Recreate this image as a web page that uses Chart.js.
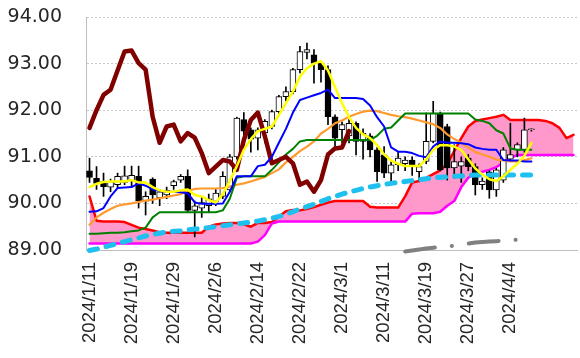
<!DOCTYPE html>
<html>
<head>
<meta charset="utf-8">
<script src="https://cdn.jsdelivr.net/npm/chart.js@4.4.1/dist/chart.umd.min.js"></script>
<style>
  html, body { margin: 0; padding: 0; background: #fff; }
  #wrap { width: 580px; height: 358px; }
</style>
</head>
<body>
<div id="wrap"><canvas id="chart"></canvas></div>
<script>
// trading days (blank = cloud projected ahead)
const dates = [
  "2024/1/11", "2024/1/12", "2024/1/15", "2024/1/16", "2024/1/17", "2024/1/18", "2024/1/19", "2024/1/22",
  "2024/1/23", "2024/1/24", "2024/1/25", "2024/1/26", "2024/1/29", "2024/1/30", "2024/1/31", "2024/2/1",
  "2024/2/2", "2024/2/5", "2024/2/6", "2024/2/7", "2024/2/8", "2024/2/9", "2024/2/12", "2024/2/13",
  "2024/2/14", "2024/2/15", "2024/2/16", "2024/2/19", "2024/2/20", "2024/2/21", "2024/2/22", "2024/2/23",
  "2024/2/26", "2024/2/27", "2024/2/28", "2024/2/29", "2024/3/1", "2024/3/4", "2024/3/5", "2024/3/6",
  "2024/3/7", "2024/3/8", "2024/3/11", "2024/3/12", "2024/3/13", "2024/3/14", "2024/3/15", "2024/3/18",
  "2024/3/19", "2024/3/20", "2024/3/21", "2024/3/22", "2024/3/25", "2024/3/26", "2024/3/27", "2024/3/28",
  "2024/3/29", "2024/4/1", "2024/4/2", "2024/4/3", "2024/4/4", "2024/4/5", "2024/4/8", "2024/4/9",
  "", "", "", "", "", ""
];

const open = [
  90.70, 90.54, 90.47, 90.35, 90.40, 90.45, 90.48, 90.58, 90.05, 90.52,
  90.12, 90.18, 90.38, 90.50, 90.58, 89.85, 89.90, 89.95, 90.04, 90.15,
  90.29, 91.00, 91.80, 91.58, 91.40, 91.51, 91.65, 91.97, 92.29, 92.40,
  92.87, 93.24, 93.19, 93.01, 92.87, 91.86, 91.58, 91.45, 91.72, 91.33,
  91.45, 91.15, 91.04, 90.65, 90.83, 90.85, 90.93, 90.68, 90.90, 91.33,
  91.94, 91.65, 90.76, 90.80, 90.97, 90.79, 90.40, 90.68, 90.29, 90.50,
  90.95, 91.15, 91.15, 91.58
];
const high = [
  90.97, 90.79, 90.65, 90.52, 90.65, 90.80, 90.80, 90.80, 90.25, 90.55,
  90.30, 90.35, 90.50, 90.62, 90.72, 90.05, 90.15, 90.20, 90.30, 90.68,
  91.05, 91.85, 91.95, 91.62, 91.62, 91.80, 92.00, 92.32, 92.50, 92.90,
  93.37, 93.44, 93.30, 93.05, 92.95, 91.90, 91.75, 91.80, 91.75, 91.60,
  91.50, 91.20, 91.22, 90.90, 91.10, 91.00, 91.00, 90.85, 91.94, 92.19,
  91.96, 91.70, 91.26, 91.00, 91.05, 90.85, 90.55, 90.70, 90.75, 91.20,
  91.72, 91.30, 91.83, 91.60
];
const low = [
  90.45, 90.30, 90.15, 90.25, 90.32, 90.40, 90.35, 89.90, 89.75, 90.00,
  89.95, 90.10, 90.30, 90.45, 89.80, 89.28, 89.70, 89.80, 89.95, 90.10,
  90.25, 90.95, 91.35, 91.10, 91.15, 91.30, 91.60, 91.90, 92.20, 92.35,
  92.80, 93.10, 92.58, 92.60, 91.69, 91.20, 91.30, 91.30, 91.04, 90.95,
  91.00, 90.47, 90.55, 90.45, 90.70, 90.70, 90.60, 90.50, 90.85, 91.30,
  90.70, 90.50, 90.54, 90.45, 90.70, 90.18, 90.30, 90.11, 90.15, 90.45,
  90.90, 91.00, 91.10, 91.55
];
const close = [
  90.56, 90.43, 90.36, 90.47, 90.58, 90.59, 90.60, 90.05, 90.15, 90.18,
  90.25, 90.28, 90.47, 90.58, 89.85, 89.95, 90.02, 90.10, 90.22, 90.58,
  91.00, 91.83, 91.55, 91.38, 91.58, 91.76, 91.97, 92.29, 92.40, 92.87,
  93.26, 93.30, 93.01, 92.87, 91.86, 91.40, 91.69, 91.72, 91.33, 91.51,
  91.15, 90.68, 90.65, 90.83, 90.97, 90.93, 90.83, 90.79, 91.33, 91.94,
  90.72, 90.76, 90.90, 90.90, 90.79, 90.40, 90.48, 90.29, 90.72, 91.15,
  91.05, 91.26, 91.58, 91.58
];

// short moving average (yellow)
const maShort = [
  90.35, 90.42, 90.46, 90.47, 90.47, 90.47, 90.50, 90.45, 90.45, 90.35,
  90.28, 90.25, 90.25, 90.28, 90.30, 90.18, 90.15, 90.07, 90.02, 90.20,
  90.48, 90.80, 91.15, 91.38, 91.55, 91.60, 91.65, 91.90, 92.15, 92.40,
  92.72, 92.90, 93.00, 93.05, 92.85, 92.50, 92.15, 91.85, 91.62, 91.48,
  91.40, 91.25, 91.05, 90.92, 90.85, 90.80, 90.80, 90.80, 90.95, 91.15,
  91.25, 91.25, 91.22, 91.15, 90.95, 90.75, 90.62, 90.52, 90.48, 90.58,
  90.72, 90.85, 91.02, 91.30
];
// conversion line (blue)
const tenkan = [
  89.82, 89.83, 89.90, 90.15, 90.33, 90.34, 90.35, 90.43, 90.38, 90.30,
  90.27, 90.25, 90.25, 90.24, 90.22, 90.02, 89.99, 89.99, 89.99, 90.00,
  90.25, 90.58, 90.58, 90.58, 90.80, 90.83, 91.00, 91.30, 91.60, 91.95,
  92.22, 92.27, 92.32, 92.37, 92.44, 92.26, 92.26, 92.26, 92.26, 92.24,
  92.10, 91.85, 91.65, 91.20, 91.11, 91.11, 91.08, 91.02, 90.99, 91.22,
  91.33, 91.30, 91.30, 91.29, 91.27, 91.20, 91.17, 91.15, 91.15, 90.93,
  90.92, 90.92, 90.90, 90.90
];
// base line (green)
const kijun = [
  89.35, 89.35, 89.36, 89.37, 89.37, 89.38, 89.40, 89.42, 89.48, 89.70,
  89.81, 89.81, 89.81, 89.81, 89.81, 89.81, 89.81, 89.81, 89.81, 89.85,
  90.10, 90.55, 90.58, 90.58, 90.58, 90.58, 90.72, 90.88, 91.05, 91.17,
  91.33, 91.36, 91.36, 91.36, 91.36, 91.36, 91.36, 91.36, 91.36, 91.36,
  91.36, 91.45, 91.60, 91.63, 91.78, 91.93, 91.93, 91.93, 91.93, 91.93,
  91.93, 91.93, 91.93, 91.93, 91.93, 91.80, 91.77, 91.72, 91.57, 91.50,
  91.18, 91.15, 91.15, 91.15
];
// medium moving average (orange)
const maMid = [
  89.54, 89.70, 89.80, 89.88, 89.95, 89.98, 90.00, 90.03, 90.06, 90.08,
  90.11, 90.14, 90.17, 90.20, 90.27, 90.31, 90.32, 90.32, 90.32, 90.33,
  90.36, 90.40, 90.43, 90.47, 90.52, 90.57, 90.65, 90.73, 90.88, 91.00,
  91.12, 91.22, 91.33, 91.50, 91.60, 91.72, 91.78, 91.86, 91.92, 91.97,
  91.99, 91.98, 91.94, 91.90, 91.87, 91.85, 91.82, 91.78, 91.74, 91.70,
  91.62, 91.48, 91.38, 91.30, 91.20, 91.10, 91.05, 91.00, 90.94, 90.92,
  90.90, 90.90, 90.93, 90.97
];
// leading span A (red) and B (magenta)
const spanA = [
  90.15, 89.63, 89.61, 89.61, 89.61, 89.60, 89.54, 89.48, 89.45, 89.42,
  89.38, 89.37, 89.37, 89.37, 89.37, 89.37, 89.37, 89.50, 89.55, 89.57,
  89.58, 89.58, 89.55, 89.50, 89.58, 89.58, 89.60, 89.72, 89.83, 89.86,
  89.85, 89.88, 89.92, 89.97, 90.02, 90.05, 90.05, 90.05, 90.05, 90.05,
  89.93, 89.91, 89.91, 89.91, 89.91, 90.15, 90.45, 90.48, 90.55, 90.63,
  90.71, 90.85, 91.12, 91.40, 91.65, 91.77, 91.80, 91.83, 91.86, 91.90,
  91.79, 91.79, 91.79, 91.79, 91.79, 91.77, 91.72, 91.62, 91.40, 91.47
];
const spanB = [
  89.14, 89.14, 89.14, 89.14, 89.14, 89.14, 89.14, 89.14, 89.14, 89.14,
  89.14, 89.14, 89.14, 89.14, 89.14, 89.14, 89.14, 89.14, 89.14, 89.14,
  89.14, 89.14, 89.14, 89.14, 89.18, 89.32, 89.57, 89.61, 89.61, 89.61,
  89.61, 89.61, 89.61, 89.61, 89.61, 89.61, 89.61, 89.61, 89.61, 89.61,
  89.61, 89.61, 89.61, 89.61, 89.61, 89.61, 89.78, 89.79, 89.79, 89.79,
  89.82, 89.95, 90.05, 90.35, 90.55, 90.65, 90.68, 90.72, 90.78, 90.87,
  90.97, 91.04, 91.04, 91.04, 91.04, 91.04, 91.04, 91.04, 91.04, 91.04
];
// lagging span (maroon)
const chikou = [
  91.62, 92.00, 92.33, 92.44, 92.85, 93.26, 93.28, 93.01, 92.87, 91.86,
  91.30, 91.65, 91.69, 91.33, 91.51, 91.41, 91.08, 90.65, 90.79, 90.93,
  90.90, 90.72, 91.36, 91.79, 91.95, 91.44, 90.86, 90.93, 91.00, 90.86,
  90.40, 90.47, 90.25, 90.50, 91.05, 91.18, 91.20, 91.55
];
// long moving average (cyan dashed)
const maLong = [
  88.99, 89.02, 89.06, 89.10, 89.14, 89.18, 89.22, 89.26, 89.30, 89.33,
  89.36, 89.39, 89.40, 89.41, 89.43, 89.45, 89.46, 89.48, 89.50, 89.52,
  89.54, 89.56, 89.58, 89.60, 89.62, 89.65, 89.68, 89.72, 89.77, 89.82,
  89.88, 89.93, 89.98, 90.04, 90.10, 90.15, 90.20, 90.24, 90.28, 90.32,
  90.35, 90.38, 90.41, 90.43, 90.45, 90.47, 90.49, 90.51, 90.53, 90.55,
  90.56, 90.57, 90.58, 90.59, 90.60, 90.61, 90.61, 90.61, 90.61, 90.61,
  90.61, 90.61, 90.61, 90.61
];
// very long moving average (gray), only the part that reaches the plot
const maVeryLong = [
  null, null, null, null, null, null, null, null, null, null,
  null, null, null, null, null, null, null, null, null, null,
  null, null, null, null, null, null, null, null, null, null,
  null, null, null, null, null, null, null, null, null, null,
  null, null, null, null, null, 88.97, 88.99, 89.01, 89.03, 89.05,
  89.07, 89.08, 89.09, 89.12, 89.14, 89.16, 89.17, 89.18, 89.19, 89.20,
  89.21, 89.22, 89.23, 89.24
];

const yTicks = [89, 90, 91, 92, 93, 94];

const wicks = low.map((l, i) => [l, high[i]]);
const bodies = open.map((o, i) => [o, close[i]]);
const bodyColors = open.map((o, i) => close[i] >= o ? "#ffffff" : "#000000");

Chart.defaults.font.family = "'Liberation Sans', Arial, sans-serif";
Chart.defaults.color = "#262626";

function line(label, data, color, width, order, extra) {
    return Object.assign({
        type: "line",
        label: label,
        data: data,
        borderColor: color,
        borderWidth: width,
        pointRadius: 0,
        tension: 0,
        fill: false,
        borderJoinStyle: "round",
        borderCapStyle: "round",
        order: order,
    }, extra || {});
}

new Chart(document.getElementById("chart"), {
    type: "bar",
    data: {
        labels: dates,
        datasets: [
            line("先行スパン1", spanA, "#ff0000", 2.5, 20, { fill: "+1", backgroundColor: "#ff99cc" }),
            line("先行スパン2", spanB, "#ff00ff", 2.5, 19),
            {
                label: "ヒゲ",
                data: wicks,
                backgroundColor: "#000000",
                barThickness: 1,
                grouped: false,
                order: 12,
            },
            {
                label: "ローソク足",
                data: bodies,
                backgroundColor: bodyColors,
                borderColor: "#000000",
                borderWidth: 1,
                borderSkipped: false,
                barThickness: 6,
                minBarLength: 1,
                grouped: false,
                order: 11,
            },
            line("長期線", maVeryLong, "#808080", 4, 9, {
                borderDash: [30, 17, 0.1, 17],
                clip: { left: 0, top: 0, right: 0, bottom: 4 },
            }),
            line("中長期線", maLong, "#1ec0f0", 5, 8, {
                borderDash: [8, 9],
                clip: { left: 0, top: 0, right: 0, bottom: 4 },
            }),
            line("中期線", maMid, "#ff9a2e", 2.2, 7),
            line("基準線", kijun, "#008000", 2, 6),
            line("遅行スパン", chikou, "#800000", 4.5, 5),
            line("転換線", tenkan, "#0000ff", 2, 4),
            line("短期線", maShort, "#ffff00", 2.5, 3),
        ],
    },
    options: {
        responsive: true,
        maintainAspectRatio: false,
        animation: false,
        layout: { padding: { top: 17, right: 3, left: 0, bottom: 0 } },
        plugins: {
            legend: { display: false },
            tooltip: { enabled: false },
        },
        scales: {
            x: {
                type: "category",
                offset: true,
                grid: { display: false, drawTicks: false },
                border: { display: true, color: "#bfbfbf", width: 1 },
                ticks: {
                    autoSkip: false,
                    minRotation: 90,
                    maxRotation: 90,
                    padding: 12,
                    font: { size: 18.5 },
                    callback: function (value, index) {
                        return index % 6 === 0 ? this.getLabelForValue(value) : "";
                    },
                },
                afterFit: function (s) {
                    s.height = 108;
                    s.paddingLeft = 0;
                    s.paddingRight = 0;
                },
            },
            y: {
                min: yTicks[0],
                max: yTicks[yTicks.length - 1],
                afterBuildTicks: function (s) {
                    s.ticks = yTicks.map(v => ({ value: v }));
                },
                grid: { color: "#c8c8c8", drawTicks: false },
                border: { display: true, color: "#bfbfbf", width: 1, dash: [2, 2] },
                ticks: {
                    padding: 24,
                    font: { family: "'DejaVu Sans', sans-serif", size: 19 },
                    callback: v => Number(v).toFixed(2),
                },
                afterFit: function (s) {
                    s.width = 86;
                    s.paddingTop = 0;
                    s.paddingBottom = 0;
                },
            },
        },
    },
});
</script>
</body>
</html>
